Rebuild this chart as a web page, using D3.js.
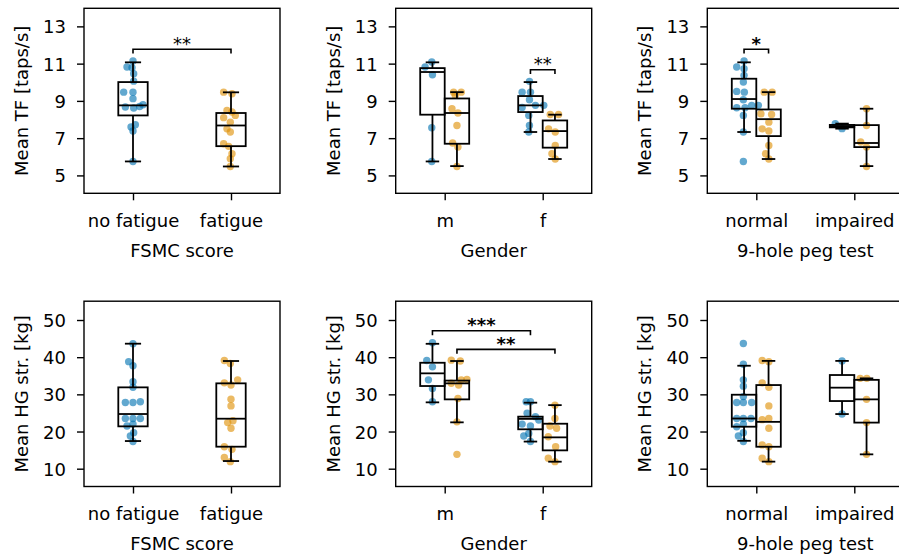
<!DOCTYPE html>
<html><head><meta charset="utf-8">
<script src="https://cdn.jsdelivr.net/npm/d3@7"></script>
<style>body{margin:0;background:#fff} text{font-family:"DejaVu Sans",sans-serif;fill:#000}</style>
</head><body><svg id="c" width="899" height="555"></svg>
<script>
// ---------- categories / ticks / labels ----------
const fsmcCategories = ["no fatigue", "fatigue"];
const genderCategories = ["m", "f"];
const pegCategories = ["normal", "impaired"];
const tfTicks = [5, 7, 9, 11, 13];
const hgTicks = [10, 20, 30, 40, 50];
const tfDomain = [4.04, 13.97];
const hgDomain = [5.21, 55.06];
const xLabels = ["FSMC score", "Gender", "9-hole peg test"];
const yLabels = ["Mean TF [taps/s]", "Mean HG str. [kg]"];

// ---------- TF by FSMC ----------
const tfFsmcNoFatigue = [11.14,10.82,10.78,10.46,10.06,9.47,9.47,9.12,8.67,8.79,8.62,8.70,7.60,7.72,7.38,5.75];
const tfFsmcNoFatigueJitter = [0,-0.061,-0.010,0.007,0.007,-0.095,0,0,-0.078,0.102,0.007,0.068,-0.020,0.024,0,0];
const tfFsmcNoFatigueBox = [5.75,8.22,8.76,10.01,11.07];
const tfFsmcFatigue = [9.47,9.38,8.49,8.40,8.22,8.10,7.86,7.50,7.33,6.70,6.56,6.16,5.90,5.48];
const tfFsmcFatigueJitter = [-0.075,0.010,-0.041,0.010,0.044,-0.075,-0.007,-0.041,-0.007,-0.075,-0.024,0.010,-0.007,-0.007];
const tfFsmcFatigueBox = [5.48,6.57,7.68,8.35,9.46];

// ---------- TF by Gender ----------
const tfGenderMBlue = [11.09,10.82,10.40,7.56,5.75];
const tfGenderMBlueJitter = [-0.007,-0.075,0,-0.007,-0.007];
const tfGenderMBlueBox = [5.75,8.26,10.55,10.76,11.07];
const tfGenderMOrange = [9.47,9.47,9.30,8.58,8.35,7.68,6.74,6.52,5.48];
const tfGenderMOrangeJitter = [-0.034,0.044,-0.017,-0.051,0.010,0,-0.044,0.010,0];
const tfGenderMOrangeBox = [5.5,6.7,8.35,9.13,9.47];
const tfGenderFBlue = [10.05,9.47,9.47,9.06,8.76,8.76,8.65,8.22,7.68,7.33];
const tfGenderFBlueJitter = [-0.010,-0.085,0,-0.010,0.136,0.051,-0.085,-0.017,-0.010,-0.017];
const tfGenderFBlueBox = [7.33,8.4,8.76,9.26,10.01];
const tfGenderFOrange = [8.27,8.27,7.50,7.33,6.61,6.16,5.88];
const tfGenderFOrangeJitter = [-0.048,0.037,-0.065,0.003,0.003,-0.031,0.003];
const tfGenderFOrangeBox = [5.88,6.49,7.38,7.95,8.26];

// ---------- TF by 9-hole peg test ----------
const tfPegNormalBlue = [11.14,10.82,10.73,10.37,10.01,9.51,9.47,9.06,8.76,8.76,8.63,8.63,8.22,7.33,5.75];
const tfPegNormalBlueJitter = [0,-0.075,0,0,-0.007,-0.075,0.003,-0.007,0.078,0.146,-0.075,0.010,-0.007,-0.007,-0.007];
const tfPegNormalBlueBox = [7.33,8.58,9.1,10.19,11.07];
const tfPegNormalOrange = [9.47,9.47,8.31,8.27,7.86,7.50,7.38,6.61,6.16,5.88];
const tfPegNormalOrangeJitter = [-0.044,0.037,-0.078,0.031,0.003,-0.065,0.003,0.003,-0.031,0.003];
const tfPegNormalOrangeBox = [5.88,7.11,8.02,8.54,9.47];
const tfPegImpairedBlue = [7.78,7.51];
const tfPegImpairedBlueJitter = [-0.069,0];
const tfPegImpairedBlueBox = [7.51,7.58,7.645,7.71,7.78];
const tfPegImpairedOrange = [8.58,7.68,6.79,6.52,5.48];
const tfPegImpairedOrangeJitter = [0,0,-0.06,0,0];
const tfPegImpairedOrangeBox = [5.5,6.52,6.74,7.7,8.58];

// ---------- HG by FSMC ----------
const hgFsmcNoFatigue = [43.6,38.8,37.7,33.4,31.9,27.8,27.8,28.0,23.5,23.5,23.5,21.5,22.0,18.8,19.7,17.3];
const hgFsmcNoFatigueJitter = [0,-0.044,0,0,0,-0.078,0,0.075,-0.078,0,0.075,-0.061,0,-0.027,0.007,0];
const hgFsmcNoFatigueBox = [17.44,21.39,24.71,31.88,43.63];
const hgFsmcFatigue = [39.1,38.3,33.1,32.5,33.9,28.7,26.9,22.4,22.9,20.9,15.9,15.2,13.0,11.9];
const hgFsmcFatigueJitter = [-0.068,-0.007,-0.068,0,0.068,0,0,-0.034,0.020,0,-0.068,0.010,-0.068,-0.007];
const hgFsmcFatigueBox = [12.06,15.92,23.45,32.96,38.97];

// ---------- HG by Gender ----------
const hgGenderMBlue = [43.9,39.1,37.4,33.9,31.6,28.0];
const hgGenderMBlueJitter = [0,-0.058,0,-0.041,0,0];
const hgGenderMBlueBox = [27.85,32.24,35.65,38.5,43.6];
const hgGenderMOrange = [39.2,38.97,33.0,32.5,34.0,33.9,28.9,22.6,13.86];
const hgGenderMOrangeJitter = [-0.058,0.034,-0.058,0.017,0.102,0.044,0.010,0,0];
const hgGenderMOrangeBox = [22.47,28.65,32.96,33.7,38.97];
const hgGenderFBlue = [28.0,28.0,24.9,24.0,22.0,21.5,18.8,19.5,17.3,23.1];
const hgGenderFBlueJitter = [-0.044,0,-0.034,0.051,-0.085,0,-0.068,-0.017,0,0.085];
const hgGenderFBlueBox = [17.3,20.6,23.4,24.0,27.76];
const hgGenderFOrange = [27.1,23.5,21.5,20.9,18.6,15.9,12.8,11.9];
const hgGenderFOrangeJitter = [0,0,-0.051,0.017,-0.068,0.007,-0.068,0];
const hgGenderFOrangeBox = [11.88,14.93,18.43,22.1,27.1];

// ---------- HG by 9-hole peg test ----------
const hgPegNormalBlue = [43.7,38.1,33.9,32.2,29.4,27.8,27.8,27.8,23.5,23.5,23.5,21.3,22.0,18.8,19.7,17.3];
const hgPegNormalBlueJitter = [-0.007,-0.007,-0.007,-0.007,-0.007,-0.075,-0.007,0.078,-0.075,-0.007,0.071,-0.075,-0.007,-0.058,-0.007,-0.007];
const hgPegNormalBlueBox = [17.5,21.3,23.5,29.9,37.7];
const hgPegNormalOrange = [39.1,38.8,33.1,31.9,26.9,23.5,23.2,20.9,16.4,15.9,12.8,11.9];
const hgPegNormalOrangeJitter = [-0.065,0.003,-0.065,0.003,0.003,0.003,-0.065,0.003,-0.065,0.003,-0.065,0.003];
const hgPegNormalOrangeBox = [11.9,15.9,22.6,32.5,39.0];
const hgPegImpairedBlue = [39.0,24.7];
const hgPegImpairedBlueJitter = [0,0];
const hgPegImpairedBlueBox = [24.7,28.2,31.8,35.2,39.0];
const hgPegImpairedOrange = [34.3,34.3,28.65,22.4,13.86];
const hgPegImpairedOrangeJitter = [-0.065,0.003,0,0,0];
const hgPegImpairedOrangeBox = [13.86,22.4,28.65,33.9,34.3];

// ---------- significance brackets: [fromCat, fromHue, toCat, toHue, yValue, label, bold] ----------
const tfFsmcBrackets = [[0,null,1,null,11.77,"**",false]];
const tfGenderBrackets = [[1,0,1,1,10.67,"**",false]];
const tfPegBrackets = [[0,0,0,1,11.77,"*",true]];
const hgGenderBrackets = [[0,0,1,0,47.1,"***",true],[0,1,1,1,42.1,"**",true]];

const colors = ["#0173b2", "#de8f05"];

// ---------- panel definitions ----------
function G(cat, hue, values, jitter, box, colorIdx){ return {cat, hue, values, jitter, box, colorIdx}; }
const panels = [
  {row:0,col:0,cats:fsmcCategories,ticks:tfTicks,domain:tfDomain,tip:0.23,brackets:tfFsmcBrackets,groups:[
    G(0,null,tfFsmcNoFatigue,tfFsmcNoFatigueJitter,tfFsmcNoFatigueBox,0),
    G(1,null,tfFsmcFatigue,tfFsmcFatigueJitter,tfFsmcFatigueBox,1)]},
  {row:0,col:1,cats:genderCategories,ticks:tfTicks,domain:tfDomain,tip:0.23,brackets:tfGenderBrackets,groups:[
    G(0,0,tfGenderMBlue,tfGenderMBlueJitter,tfGenderMBlueBox,0),
    G(0,1,tfGenderMOrange,tfGenderMOrangeJitter,tfGenderMOrangeBox,1),
    G(1,0,tfGenderFBlue,tfGenderFBlueJitter,tfGenderFBlueBox,0),
    G(1,1,tfGenderFOrange,tfGenderFOrangeJitter,tfGenderFOrangeBox,1)]},
  {row:0,col:2,cats:pegCategories,ticks:tfTicks,domain:tfDomain,tip:0.23,brackets:tfPegBrackets,groups:[
    G(0,0,tfPegNormalBlue,tfPegNormalBlueJitter,tfPegNormalBlueBox,0),
    G(0,1,tfPegNormalOrange,tfPegNormalOrangeJitter,tfPegNormalOrangeBox,1),
    G(1,0,tfPegImpairedBlue,tfPegImpairedBlueJitter,tfPegImpairedBlueBox,0),
    G(1,1,tfPegImpairedOrange,tfPegImpairedOrangeJitter,tfPegImpairedOrangeBox,1)]},
  {row:1,col:0,cats:fsmcCategories,ticks:hgTicks,domain:hgDomain,tip:1.2,brackets:[],groups:[
    G(0,null,hgFsmcNoFatigue,hgFsmcNoFatigueJitter,hgFsmcNoFatigueBox,0),
    G(1,null,hgFsmcFatigue,hgFsmcFatigueJitter,hgFsmcFatigueBox,1)]},
  {row:1,col:1,cats:genderCategories,ticks:hgTicks,domain:hgDomain,tip:1.2,brackets:hgGenderBrackets,groups:[
    G(0,0,hgGenderMBlue,hgGenderMBlueJitter,hgGenderMBlueBox,0),
    G(0,1,hgGenderMOrange,hgGenderMOrangeJitter,hgGenderMOrangeBox,1),
    G(1,0,hgGenderFBlue,hgGenderFBlueJitter,hgGenderFBlueBox,0),
    G(1,1,hgGenderFOrange,hgGenderFOrangeJitter,hgGenderFOrangeBox,1)]},
  {row:1,col:2,cats:pegCategories,ticks:hgTicks,domain:hgDomain,tip:1.2,brackets:[],groups:[
    G(0,0,hgPegNormalBlue,hgPegNormalBlueJitter,hgPegNormalBlueBox,0),
    G(0,1,hgPegNormalOrange,hgPegNormalOrangeJitter,hgPegNormalOrangeBox,1),
    G(1,0,hgPegImpairedBlue,hgPegImpairedBlueJitter,hgPegImpairedBlueBox,0),
    G(1,1,hgPegImpairedOrange,hgPegImpairedOrangeJitter,hgPegImpairedOrangeBox,1)]}
];

// ---------- layout ----------
const colLeft = [84, 395.7, 707.3];
const panelW = 196;
const rowTop = [8.3, 301.2];
const rowBottom = [193.3, 486.5];
const FS = 18;
const svg = d3.select("#c");

function hueOffset(h){ return h === null ? 0 : (h === 0 ? -0.125 : 0.125); }

panels.forEach(p => {
  const left = colLeft[p.col], top = rowTop[p.row], bottom = rowBottom[p.row];
  const x = d3.scaleLinear().domain([-0.5, 1.5]).range([left, left + panelW]);
  const y = d3.scaleLinear().domain(p.domain).range([bottom, top]);
  const g = svg.append("g");

  // y axis ticks
  const yAxis = d3.axisLeft(y).tickValues(p.ticks).tickSize(7).tickPadding(11).tickFormat(d3.format("d"));
  const ya = g.append("g").attr("transform", `translate(${left},0)`).call(yAxis);
  ya.select(".domain").remove();
  ya.selectAll("line").attr("stroke", "#000").attr("stroke-width", 1.4);
  ya.selectAll("text").attr("font-size", FS).attr("font-family", "DejaVu Sans").attr("fill", "#000").attr("dy", "0.36em");

  // x axis ticks
  const xAxis = d3.axisBottom(x).tickValues([0, 1]).tickSize(7).tickPadding(0).tickFormat(i => p.cats[i]);
  const xa = g.append("g").attr("transform", `translate(0,${bottom})`).call(xAxis);
  xa.select(".domain").remove();
  xa.selectAll("line").attr("stroke", "#000").attr("stroke-width", 1.4);
  xa.selectAll("text").attr("font-size", FS).attr("font-family", "DejaVu Sans").attr("fill", "#000").attr("y", 33.4).attr("dy", null);

  // labels
  g.append("text").attr("x", left + panelW / 2).attr("y", bottom + 63.4).attr("text-anchor", "middle")
    .attr("font-size", FS).text(xLabels[p.col]);
  g.append("text").attr("transform", `translate(${left - 56},${(top + bottom) / 2}) rotate(-90)`)
    .attr("text-anchor", "middle").attr("font-size", FS).text(yLabels[p.row]);

  // points
  p.groups.forEach(gr => {
    const cx = gr.cat + hueOffset(gr.hue);
    g.append("g").selectAll("circle").data(gr.values).join("circle")
      .attr("cx", (d, i) => x(cx + gr.jitter[i]))
      .attr("cy", d => y(d))
      .attr("r", 3.7)
      .attr("fill", colors[gr.colorIdx])
      .attr("fill-opacity", 0.62);
  });

  // boxes
  p.groups.forEach(gr => {
    const c = gr.cat + hueOffset(gr.hue);
    const bw = gr.hue === null ? 0.3 : 0.25;
    const cw = bw * 0.55;
    const [lo, q1, med, q3, hi] = gr.box;
    const bg = g.append("g").attr("stroke", "#000").attr("stroke-width", 1.8).attr("fill", "none");
    bg.append("line").attr("x1", x(c)).attr("x2", x(c)).attr("y1", y(q3)).attr("y2", y(hi));
    bg.append("line").attr("x1", x(c)).attr("x2", x(c)).attr("y1", y(q1)).attr("y2", y(lo));
    bg.append("line").attr("x1", x(c - cw / 2)).attr("x2", x(c + cw / 2)).attr("y1", y(hi)).attr("y2", y(hi));
    bg.append("line").attr("x1", x(c - cw / 2)).attr("x2", x(c + cw / 2)).attr("y1", y(lo)).attr("y2", y(lo));
    bg.append("rect").attr("x", x(c - bw / 2)).attr("width", x(c + bw / 2) - x(c - bw / 2))
      .attr("y", y(q3)).attr("height", y(q1) - y(q3));
    bg.append("line").attr("x1", x(c - bw / 2)).attr("x2", x(c + bw / 2)).attr("y1", y(med)).attr("y2", y(med));
  });

  // brackets
  p.brackets.forEach(b => {
    const [c1, h1, c2, h2, yv, label, bold] = b;
    const xa1 = x(c1 + hueOffset(h1)), xa2 = x(c2 + hueOffset(h2));
    const yy = y(yv), yt = y(yv - p.tip);
    g.append("path").attr("d", `M${xa1},${yt}L${xa1},${yy}L${xa2},${yy}L${xa2},${yt}`)
      .attr("fill", "none").attr("stroke", "#000").attr("stroke-width", 1.6);
    g.append("text").attr("x", (xa1 + xa2) / 2).attr("y", yy + 0.5).attr("text-anchor", "middle")
      .attr("font-size", FS).attr("font-weight", bold ? "bold" : "normal").text(label);
  });

  // frame
  g.append("rect").attr("x", left).attr("y", top).attr("width", panelW).attr("height", bottom - top)
    .attr("fill", "none").attr("stroke", "#000").attr("stroke-width", 1.4);
});
</script>
</body></html>
